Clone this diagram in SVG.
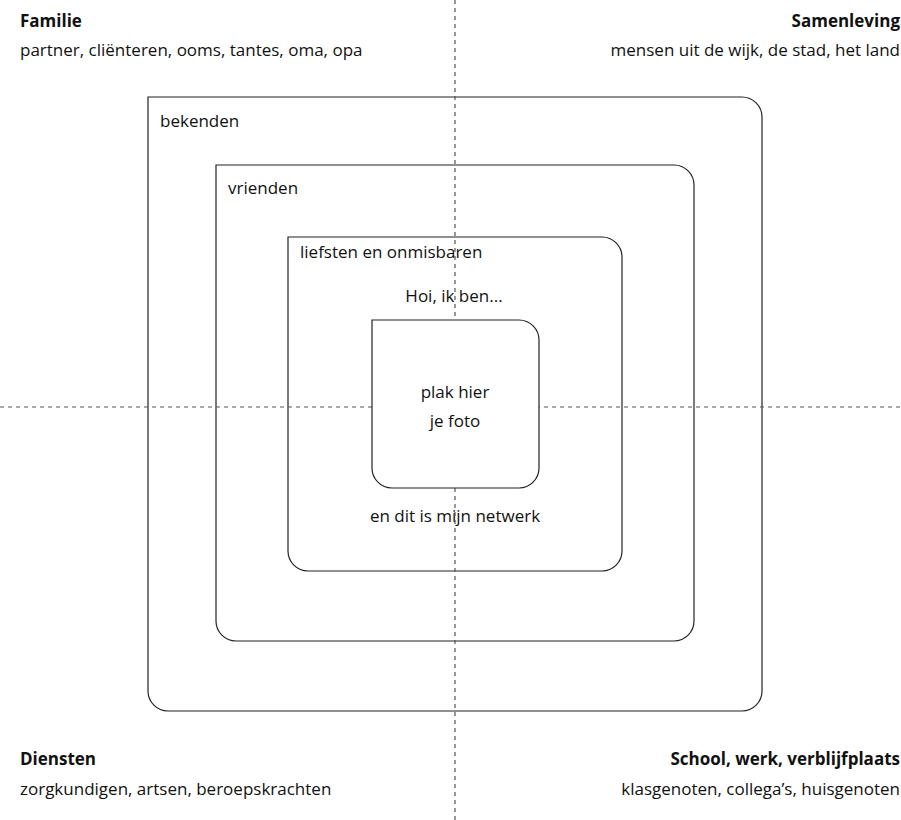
<svg xmlns="http://www.w3.org/2000/svg" width="901" height="820" viewBox="0 0 901 820">
<style>
text{font-family:"Open Sans","Noto Sans","Liberation Sans",sans-serif;font-size:17px;fill:#111}
.b{font-weight:bold}
.r{text-anchor:end}
.m{text-anchor:middle}
.box{fill:none;stroke:#222;stroke-width:1.2}
.photo{fill:#fff;stroke:#222;stroke-width:1.2}
.dash{stroke:#555;stroke-width:1.2;stroke-dasharray:4 4;fill:none}
</style>
<rect width="901" height="820" fill="#fff"/>
<g id="quadrants">
<g id="familie"><text class="b" x="20" y="27">Familie</text><text x="20" y="56">partner, cliënteren, ooms, tantes, oma, opa</text></g>
<g id="samenleving"><text class="b r" x="900" y="27">Samenleving</text><text class="r" x="900" y="56">mensen uit de wijk, de stad, het land</text></g>
<g id="diensten"><text class="b" x="20" y="765">Diensten</text><text x="20" y="795">zorgkundigen, artsen, beroepskrachten</text></g>
<g id="school"><text class="b r" x="900" y="765">School, werk, verblijfplaats</text><text class="r" x="900" y="795">klasgenoten, collega’s, huisgenoten</text></g>
</g>
<g id="bekenden"><path class="box" d="M148,97 H742 A20,20 0 0 1 762,117 V691 A20,20 0 0 1 742,711 H168 A20,20 0 0 1 148,691 Z"/><text x="160" y="127">bekenden</text></g>
<g id="vrienden"><path class="box" d="M216,165 H674 A20,20 0 0 1 694,185 V621 A20,20 0 0 1 674,641 H236 A20,20 0 0 1 216,621 Z"/><text x="228" y="194">vrienden</text></g>
<g id="liefsten"><path class="box" d="M288,237 H602 A20,20 0 0 1 622,257 V551 A20,20 0 0 1 602,571 H308 A20,20 0 0 1 288,551 Z"/><text x="300" y="258">liefsten en onmisbaren</text><text class="m" x="454" y="302">Hoi, ik ben...</text><text class="m" x="455" y="522">en dit is mijn netwerk</text></g>
<g id="connectors"><line class="dash" x1="455" y1="0" x2="455" y2="820"/><line class="dash" x1="0" y1="407" x2="901" y2="407"/></g>
<g id="foto"><path class="photo" d="M372,320 H519 A20,20 0 0 1 539,340 V468 A20,20 0 0 1 519,488 H392 A20,20 0 0 1 372,468 Z"/><text class="m" x="455" y="398">plak hier</text><text class="m" x="455" y="427">je foto</text></g>
</svg>
